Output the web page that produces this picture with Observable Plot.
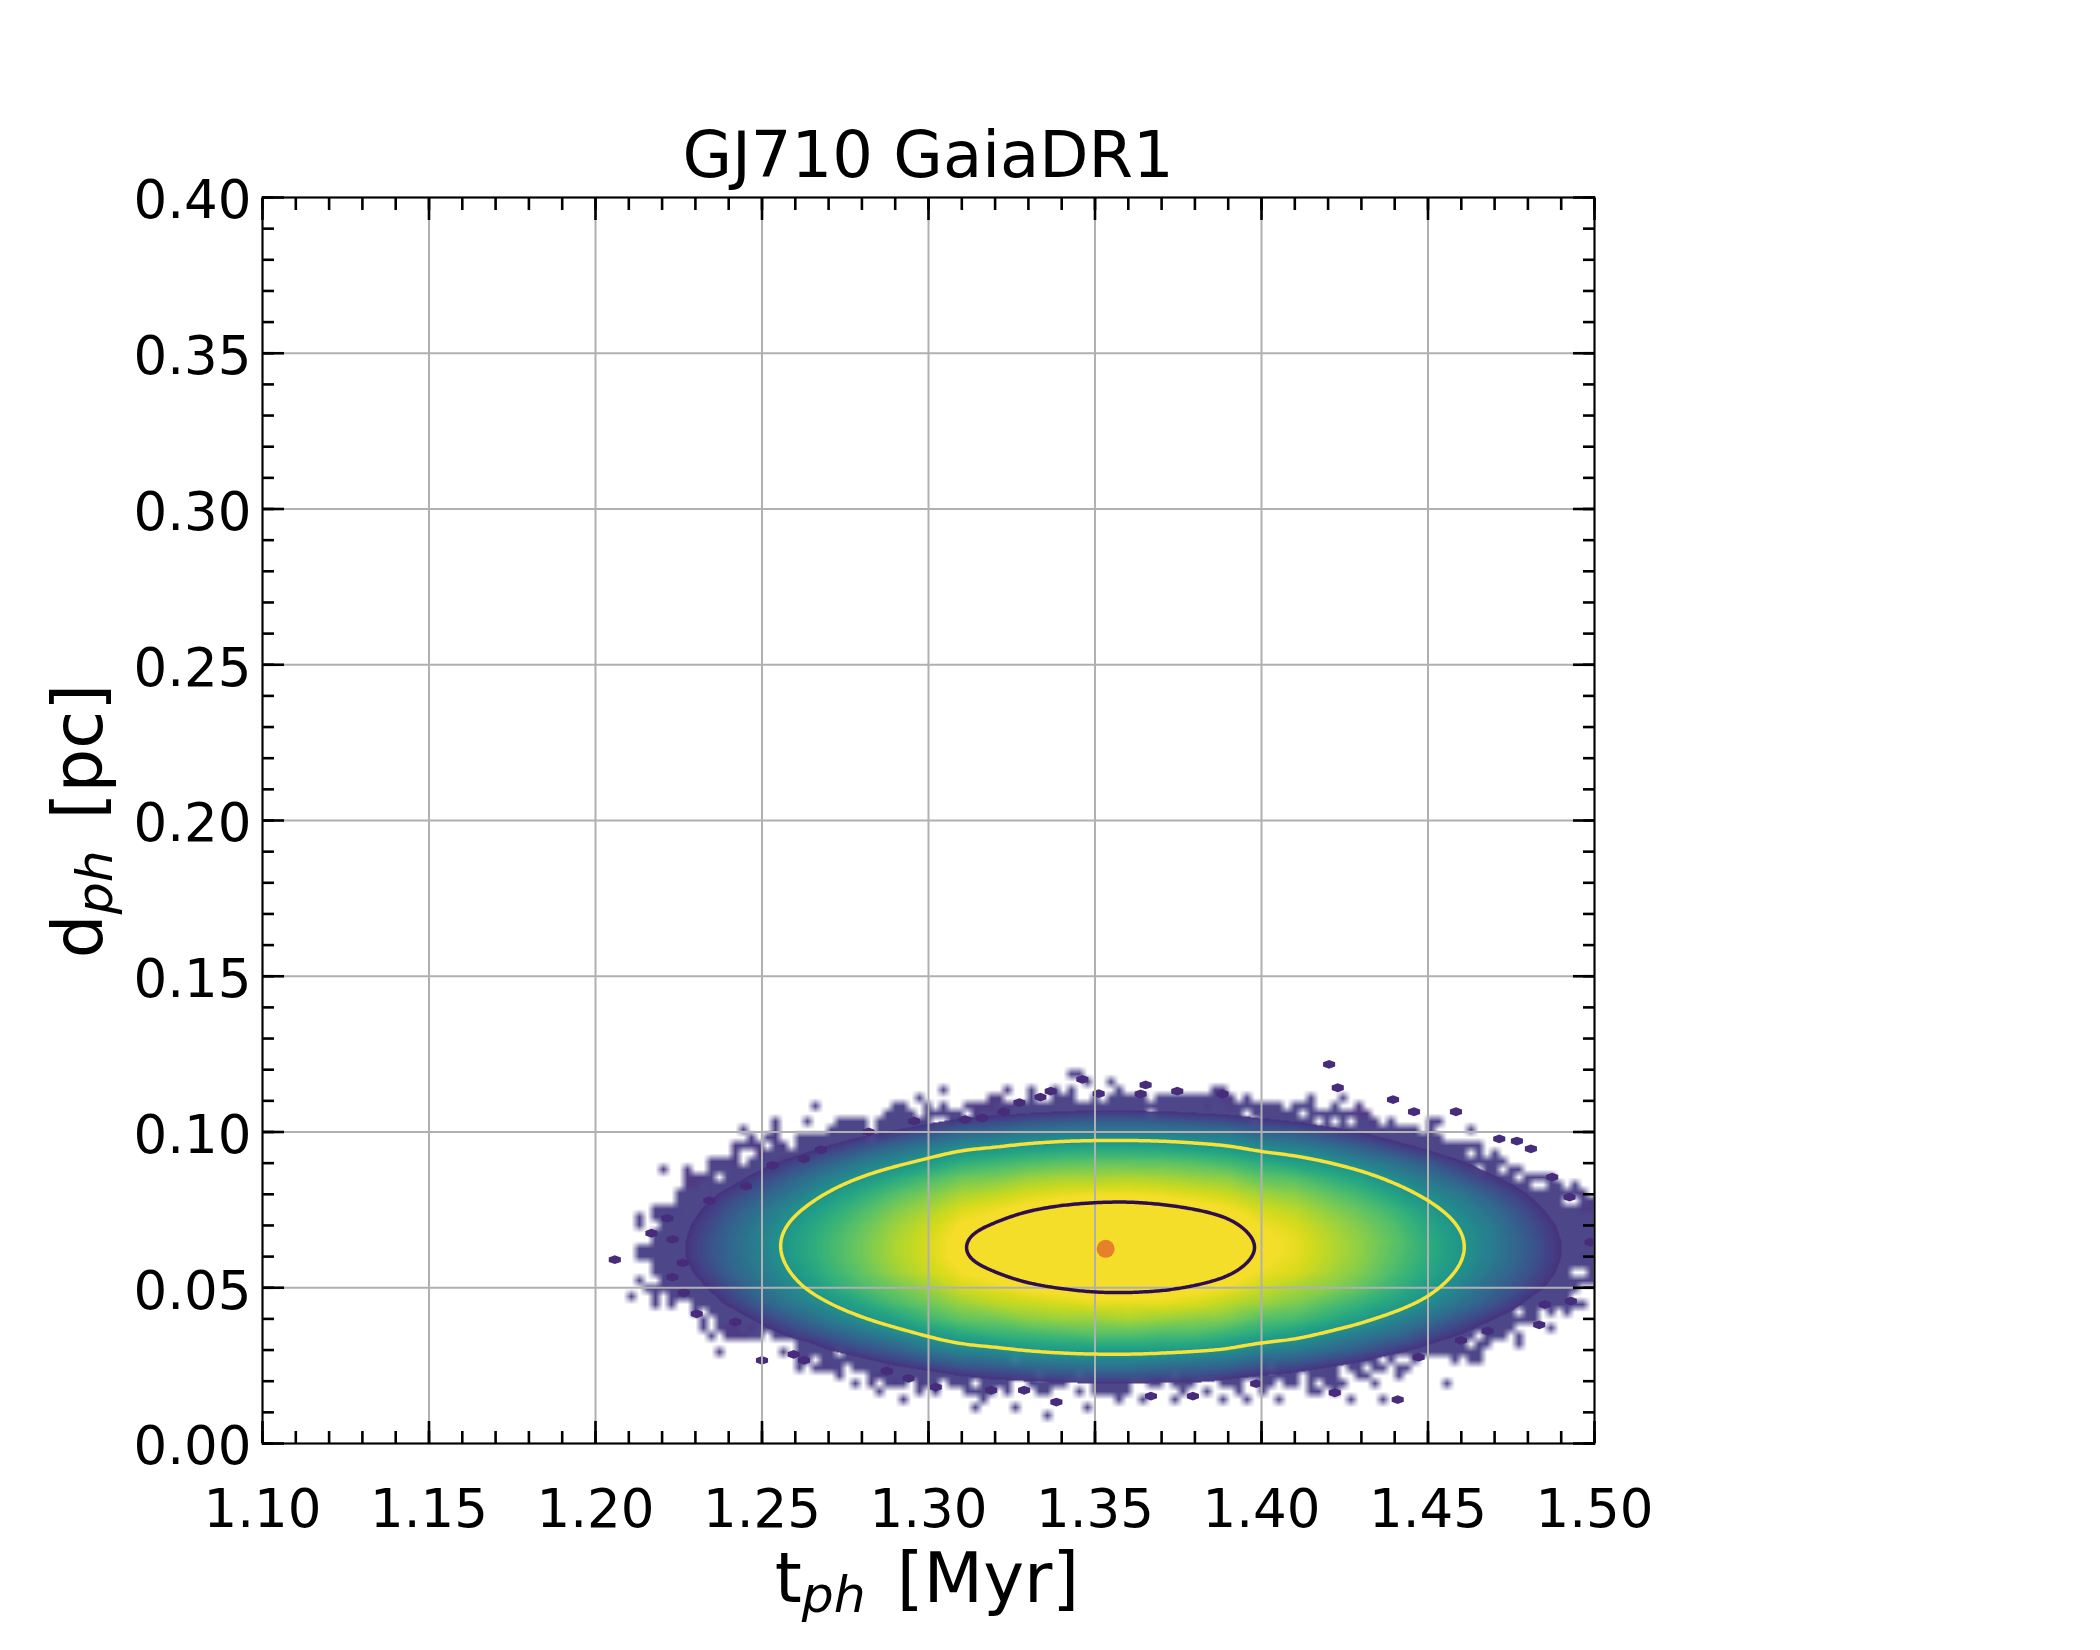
<!DOCTYPE html>
<html><head><meta charset="utf-8">
<script src="https://cdn.jsdelivr.net/npm/d3@7"></script>
<script src="https://cdn.jsdelivr.net/npm/@observablehq/plot@0.6"></script>
<style>
html,body{margin:0;padding:0;background:#fff;}
#wrap{position:relative;width:2100px;height:1650px;font-family:"DejaVu Sans",sans-serif;color:#000;overflow:hidden;}
.lbl{position:absolute;white-space:nowrap;line-height:1;}
.sub{font-style:italic;font-size:0.73em;position:relative;top:0.2em;margin-right:0.18em;}
#title{font-size:64px;left:928px;top:123px;transform:translateX(-50%);}
#xlabel{font-size:69px;left:927px;top:1544px;transform:translateX(-50%);}
#ylabel{font-size:69px;left:78px;top:821px;transform:translate(-50%,-50%) rotate(-90deg);}
</style></head>
<body>
<div id="wrap">
<div id="chart"></div>
<div class="lbl" id="title">GJ710 GaiaDR1</div>
<div class="lbl" id="xlabel">t<span class="sub">ph</span> [Myr]</div>
<div class="lbl" id="ylabel">d<span class="sub">ph</span> [pc]</div>
</div>
<script>
// ---- data ----
// grid of sample positions for the log-density surface
const tGrid = [1.20,1.21,1.22,1.23,1.24,1.25,1.26,1.27,1.28,1.29,1.30,1.31,1.32,1.33,1.34,1.35,1.36,1.37,1.38,1.39,1.40,1.41,1.42,1.43,1.44,1.45,1.46,1.47,1.48,1.49,1.50];
const dGrid = [0.000,0.005,0.010,0.015,0.020,0.025,0.030,0.035,0.040,0.045,0.050,0.055,0.060,0.065,0.070,0.075,0.080,0.085,0.090,0.095,0.100,0.105,0.110,0.115,0.120,0.125,0.130];
// log-density level (natural log of counts per hex), one row per dGrid value
const level = [
[-2,-2,-2,-2,-2,-2,-2,-2,-2,-2,-2,-2,-2,-2,-2,-2,-2,-2,-2,-2,-2,-2,-2,-2,-2,-2,-2,-2,-2,-2,-2],
[-2,-2,-2,-2,-2,-2,-2,-2,-2,-2,-2,-2,-2,-2,-2,-2,-2,-2,-2,-2,-2,-2,-2,-2,-2,-2,-2,-2,-2,-2,-2],
[-2,-2,-2,-2,-2,-2,-2,-2,-2,-2,-2,-2,-1.9,-1.8,-1.8,-1.7,-1.7,-1.8,-1.8,-1.9,-2,-2,-2,-2,-2,-2,-2,-2,-2,-2,-2],
[-2,-2,-2,-2,-2,-2,-2,-2,-2,-1.9,-1.6,-1.3,-1.1,-1.0,-0.9,-0.8,-0.8,-0.8,-0.9,-1.1,-1.3,-1.5,-1.7,-2,-2,-2,-2,-2,-2,-2,-2],
[-2,-2,-2,-2,-2,-2,-1.8,-1.4,-1.0,-0.6,-0.3,0.0,0.2,0.3,0.4,0.5,0.5,0.4,0.4,0.2,0.0,-0.2,-0.5,-0.8,-1.1,-1.6,-2,-2,-2,-2,-2],
[-2,-2,-2,-2,-2,-1.5,-1.0,-0.5,-0.1,0.3,0.6,0.9,1.0,1.2,1.3,1.4,1.4,1.3,1.2,1.1,0.8,0.7,0.4,0.1,-0.3,-0.7,-1.1,-1.7,-2,-2,-2],
[-2,-2,-2,-1.9,-1.3,-0.7,-0.2,0.3,0.7,1.0,1.4,1.7,1.8,2.0,2.1,2.1,2.1,2.1,2.0,1.9,1.6,1.5,1.2,0.9,0.5,0.1,-0.4,-0.9,-1.4,-2,-2],
[-2,-2,-1.9,-1.2,-0.6,0.0,0.5,0.9,1.3,1.7,2.0,2.3,2.5,2.6,2.7,2.8,2.8,2.7,2.7,2.5,2.3,2.1,1.8,1.5,1.2,0.7,0.3,-0.2,-0.8,-1.4,-2],
[-2,-2,-1.3,-0.7,-0.1,0.5,1.0,1.5,1.9,2.2,2.6,2.9,3.0,3.2,3.3,3.3,3.4,3.3,3.2,3.1,2.8,2.7,2.4,2.1,1.7,1.3,0.8,0.3,-0.2,-0.8,-1.5],
[-2,-1.6,-0.9,-0.2,0.4,1.0,1.5,1.9,2.3,2.7,3.0,3.3,3.5,3.6,3.7,3.8,3.8,3.8,3.7,3.5,3.3,3.1,2.8,2.5,2.2,1.8,1.3,0.8,0.2,-0.4,-1.0],
[-2,-1.3,-0.5,0.1,0.7,1.3,1.8,2.3,2.7,3.0,3.3,3.66,3.8,3.96,4.06,4.12,4.13,4.08,3.99,3.86,3.61,3.4,3.2,2.9,2.5,2.1,1.6,1.1,0.6,0.0,-0.7],
[-1.8,-1.0,-0.3,0.35,1.0,1.5,2.0,2.5,2.9,3.3,3.6,3.89,4.03,4.19,4.29,4.35,4.36,4.31,4.22,4.09,3.84,3.7,3.4,3.1,2.7,2.3,1.85,1.3,0.8,0.2,-0.5],
[-1.7,-0.9,-0.2,0.5,1.1,1.6,2.15,2.6,3.0,3.4,3.7,4.01,4.15,4.31,4.41,4.47,4.48,4.43,4.34,4.21,3.96,3.8,3.5,3.2,2.8,2.4,1.97,1.46,0.9,0.3,-0.3],
[-1.7,-0.9,-0.2,0.5,1.1,1.65,2.16,2.6,3.0,3.4,3.7,4.02,4.16,4.32,4.42,4.48,4.49,4.44,4.35,4.22,3.97,3.81,3.5,3.2,2.85,2.4,1.98,1.47,0.9,0.3,-0.3],
[-1.8,-1.0,-0.3,0.4,1.0,1.55,2.06,2.5,2.9,3.3,3.6,3.92,4.06,4.22,4.32,4.38,4.39,4.34,4.25,4.12,3.87,3.7,3.4,3.1,2.75,2.3,1.88,1.4,0.8,0.2,-0.4],
[-2,-1.2,-0.5,0.2,0.8,1.35,1.86,2.3,2.7,3.1,3.4,3.72,3.86,4.02,4.12,4.18,4.19,4.14,4.05,3.92,3.67,3.5,3.2,2.9,2.55,2.1,1.68,1.2,0.6,0.0,-0.6],
[-2,-1.5,-0.8,-0.1,0.5,1.0,1.5,2.0,2.4,2.8,3.1,3.4,3.54,3.7,3.8,3.86,3.87,3.82,3.73,3.6,3.35,3.2,2.9,2.6,2.2,1.8,1.4,0.85,0.3,-0.3,-1.0],
[-2,-1.9,-1.2,-0.6,0.05,0.6,1.1,1.6,2.0,2.35,2.7,3.0,3.1,3.3,3.4,3.4,3.45,3.4,3.3,3.2,2.9,2.8,2.5,2.2,1.8,1.4,0.9,0.4,-0.1,-0.7,-1.4],
[-2,-2,-1.75,-1.1,-0.5,0.1,0.6,1.05,1.5,1.8,2.1,2.45,2.6,2.75,2.85,2.9,2.9,2.9,2.8,2.65,2.4,2.2,1.97,1.65,1.3,0.9,0.4,-0.1,-0.65,-1.25,-1.9],
[-2,-2,-2,-1.7,-1.1,-0.6,-0.05,0.4,0.8,1.2,1.5,1.81,1.95,2.11,2.21,2.27,2.28,2.23,2.14,2.01,1.76,1.6,1.33,1.0,0.6,0.2,-0.2,-0.7,-1.3,-1.9,-2],
[-2,-2,-2,-2,-1.9,-1.3,-0.8,-0.3,0.1,0.4,0.75,1.1,1.2,1.4,1.5,1.5,1.5,1.5,1.4,1.3,1.0,0.9,0.6,0.3,-0.1,-0.5,-1.0,-1.5,-2,-2,-2],
[-2,-2,-2,-2,-2,-2,-1.65,-1.2,-0.8,-0.4,-0.1,0.2,0.35,0.5,0.6,0.7,0.7,0.6,0.5,0.4,0.2,0.0,-0.3,-0.6,-1.0,-1.4,-1.8,-2,-2,-2,-2],
[-2,-2,-2,-2,-2,-2,-2,-2,-1.7,-1.4,-1.1,-0.75,-0.6,-0.45,-0.35,-0.3,-0.3,-0.3,-0.4,-0.55,-0.8,-1.0,-1.2,-1.55,-1.9,-2,-2,-2,-2,-2,-2],
[-2,-2,-2,-2,-2,-2,-2,-2,-2,-2,-2,-1.8,-1.7,-1.5,-1.4,-1.4,-1.35,-1.4,-1.5,-1.6,-1.9,-2,-2,-2,-2,-2,-2,-2,-2,-2,-2],
[-2,-2,-2,-2,-2,-2,-2,-2,-2,-2,-2,-2,-2,-2,-2,-2,-2,-2,-2,-2,-2,-2,-2,-2,-2,-2,-2,-2,-2,-2,-2],
[-2,-2,-2,-2,-2,-2,-2,-2,-2,-2,-2,-2,-2,-2,-2,-2,-2,-2,-2,-2,-2,-2,-2,-2,-2,-2,-2,-2,-2,-2,-2],
[-2,-2,-2,-2,-2,-2,-2,-2,-2,-2,-2,-2,-2,-2,-2,-2,-2,-2,-2,-2,-2,-2,-2,-2,-2,-2,-2,-2,-2,-2,-2]
];
// contour levels (same units as level)
const contourOuter = 1.9;
const contourInner = 4.0;
// isolated sparse hexes outside the dense region
const outT = [1.4203,1.3462,1.3652,1.4229,1.3367,1.3747,1.3511,1.3637,1.3336,1.3883,1.4395,1.4584,1.4458,1.3273,1.3226,1.2957,1.3110,1.3161,1.2820,1.2677,1.2532,1.2626,1.2452,1.2342,1.2216,1.2168,1.2231,1.2058,1.2262,1.2231,1.2265,1.2304,1.2420,1.2500,1.2626,1.2595,1.2875,1.2940,1.3022,1.3188,1.3287,1.3384,1.3668,1.3794,1.3984,1.4220,1.4409,1.4472,1.4599,1.4679,1.4834,1.4851,1.4929,1.4988,1.4925,1.4873,1.4809,1.4767,1.4714];
const outD = [0.1217,0.1169,0.1151,0.1142,0.1131,0.1131,0.1123,0.1122,0.1112,0.1122,0.1104,0.1065,0.1065,0.1094,0.1065,0.1035,0.1040,0.1045,0.1000,0.0943,0.0893,0.0914,0.0826,0.0780,0.0723,0.0675,0.0655,0.0590,0.0580,0.0534,0.0484,0.0416,0.0390,0.0267,0.0267,0.0286,0.0232,0.0209,0.0181,0.0171,0.0171,0.0133,0.0152,0.0152,0.0192,0.0163,0.0141,0.0277,0.0331,0.0361,0.0381,0.0446,0.0457,0.0646,0.0791,0.0855,0.0946,0.0971,0.0978];
// best-estimate point
const peakT = [1.3532];
const peakD = [0.0625];
// ticks
const xMajor = [1.10,1.15,1.20,1.25,1.30,1.35,1.40,1.45,1.50];
const xMinor = [1.10,1.11,1.12,1.13,1.14,1.15,1.16,1.17,1.18,1.19,1.20,1.21,1.22,1.23,1.24,1.25,1.26,1.27,1.28,1.29,1.30,1.31,1.32,1.33,1.34,1.35,1.36,1.37,1.38,1.39,1.40,1.41,1.42,1.43,1.44,1.45,1.46,1.47,1.48,1.49,1.50];
const yMajor = [0.00,0.05,0.10,0.15,0.20,0.25,0.30,0.35,0.40];
const yMinor = [0.00,0.01,0.02,0.03,0.04,0.05,0.06,0.07,0.08,0.09,0.10,0.11,0.12,0.13,0.14,0.15,0.16,0.17,0.18,0.19,0.20,0.21,0.22,0.23,0.24,0.25,0.26,0.27,0.28,0.29,0.30,0.31,0.32,0.33,0.34,0.35,0.36,0.37,0.38,0.39,0.40];

// ---- build tables ----
const cells = [];
level.forEach((row, i) => row.forEach((v, j) => cells.push({t: tGrid[j], d: dGrid[i], L: v})));
const speckles = outT.map((t, i) => ({t, d: outD[i]}));
const peak = peakT.map((t, i) => ({t, d: peakD[i]}));
const gridExtent = {x1: tGrid[0], x2: tGrid[tGrid.length - 1], y1: dGrid[0], y2: dGrid[dGrid.length - 1]};

// colour: viridis on the log level, saturating at the top, transparent below the dense edge
const colorFn = (u) => u < 0.142 ? null : d3.interpolateViridis(Math.max(0.12, Math.min(1, u)));

const hexSymbol = {
  draw(ctx, size) {
    const s = Math.sqrt(size / Math.PI);
    const w = s * 1.1, h = s * 0.8, k = s * 0.4;
    ctx.moveTo(0, -h); ctx.lineTo(w, -k); ctx.lineTo(w, k);
    ctx.lineTo(0, h); ctx.lineTo(-w, k); ctx.lineTo(-w, -k); ctx.closePath();
  }
};

const tickStyle = {strokeWidth: 2.6, tickFormat: () => "", label: null};

const chart = Plot.plot({
  width: 2100, height: 1650,
  marginLeft: 262, marginRight: 506, marginTop: 197, marginBottom: 207,
  x: {domain: [1.10, 1.50]},
  y: {domain: [0, 0.40]},
  color: {type: "linear", domain: [-0.3, 3.9], interpolate: colorFn},
  style: {fontFamily: "DejaVu Sans", fontSize: "53px", color: "black", background: "white"},
  marks: [
    // sparse fringe: dithered edge of the distribution
    Plot.raster(cells, {x: "t", y: "d", ...gridExtent, fill: (d) => Math.min(d.L + 0.9, 0.45), interpolate: "random-walk", pixelSize: 8, fillOpacity: 0.95}),
    // dense body
    Plot.raster(cells, {x: "t", y: "d", fill: "L", interpolate: "barycentric", pixelSize: 1, fillOpacity: 0.95}),
    Plot.dot(speckles, {x: "t", y: "d", r: 5.5, symbol: hexSymbol, fill: "#472c7b", clip: true}),
    Plot.gridX(xMajor, {stroke: "#b0b0b0", strokeOpacity: 1, strokeWidth: 2}),
    Plot.gridY(yMajor, {stroke: "#b0b0b0", strokeOpacity: 1, strokeWidth: 2}),
    Plot.contour(cells, {x: "t", y: "d", value: "L", interpolate: "barycentric", pixelSize: 2, blur: 5, thresholds: [contourOuter], fill: "none", stroke: "#f7e23a", strokeWidth: 3.5}),
    Plot.contour(cells, {x: "t", y: "d", value: "L", interpolate: "barycentric", pixelSize: 2, blur: 5, thresholds: [contourInner], fill: "none", stroke: "#300d4d", strokeWidth: 3.5}),
    Plot.dot(peak, {x: "t", y: "d", r: 9, fill: "#e6812b"}),
    Plot.frame({stroke: "black", strokeWidth: 2}),
    Plot.axisX(xMinor, {anchor: "bottom", tickSize: -12, ...tickStyle}),
    Plot.axisX(xMajor, {anchor: "bottom", tickSize: -22, ...tickStyle}),
    Plot.axisX(xMinor, {anchor: "top", tickSize: -12, ...tickStyle}),
    Plot.axisX(xMajor, {anchor: "top", tickSize: -22, ...tickStyle}),
    Plot.axisY(yMinor, {anchor: "left", tickSize: -12, ...tickStyle}),
    Plot.axisY(yMajor, {anchor: "left", tickSize: -22, ...tickStyle}),
    Plot.axisY(yMinor, {anchor: "right", tickSize: -12, ...tickStyle}),
    Plot.axisY(yMajor, {anchor: "right", tickSize: -22, ...tickStyle}),
    Plot.axisX(xMajor, {anchor: "bottom", tickSize: 0, tickPadding: 46, tickFormat: ".2f", fontSize: 53, label: null}),
    Plot.axisY(yMajor, {anchor: "left", tickSize: 0, tickPadding: 11, tickFormat: ".2f", fontSize: 53, label: null, dy: 4})
  ]
});
document.getElementById("chart").appendChild(chart);
</script>
</body></html>
